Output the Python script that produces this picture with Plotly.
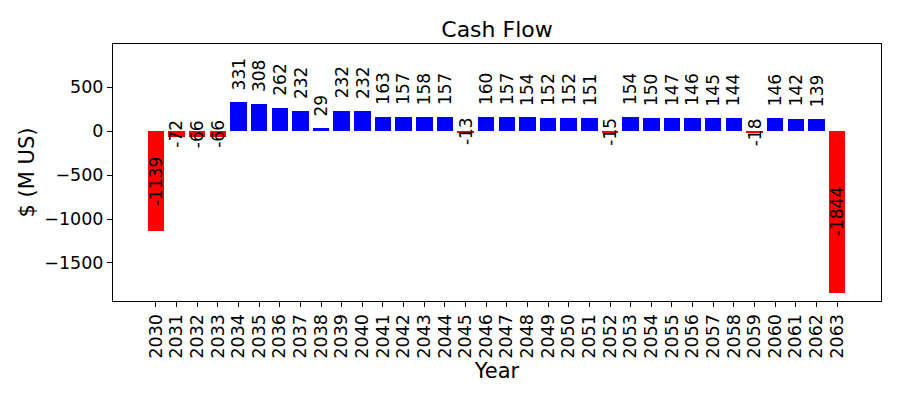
import plotly.graph_objects as go

# cash flow per year, M US$
years = list(range(2030, 2064))
cashflow = [-1139, -72, -66, -66, 331, 308, 262, 232, 29, 232, 232, 163, 157, 158, 157, -13,
            160, 157, 154, 152, 152, 151, -15, 154, 150, 147, 146, 145, 144, -18, 146, 142, 139, -1844]
ytick_vals = [500, 0, -500, -1000, -1500]

colors = ['#ff0000' if v < 0 else '#0000ff' for v in cashflow]

fig = go.Figure()
fig.add_trace(
    go.Bar(
        x=years,
        y=cashflow,
        width=0.8,
        marker_color=colors,
        marker_line_width=0,
        showlegend=False,
    )
)

# value labels, rotated like the original
for yr, v in zip(years, cashflow):
    if v >= 0:
        fig.add_annotation(x=yr, y=v, text=str(v), textangle=-90, showarrow=False,
                           yanchor='bottom', xanchor='center', yshift=10,
                           font=dict(size=17, color='black'))
    else:
        fig.add_annotation(x=yr, y=v / 2, text=str(v), textangle=-90, showarrow=False,
                           yanchor='middle', xanchor='center',
                           font=dict(size=17, color='black'))

# page body has an 8px margin, so the figure is a bit smaller than the window
fig.update_layout(
    width=892, height=392,
    margin=dict(l=105, r=19, t=36, b=99),
    plot_bgcolor='white',
    paper_bgcolor='white',
    font=dict(family='DejaVu Sans', size=17.5, color='black'),
    title=dict(text='Cash Flow', x=0.5, xanchor='center', xref='paper',
               y=1 - 21 / 392, yref='container', yanchor='middle',
               font=dict(size=22)),
    bargap=0,
)
fig.update_xaxes(
    range=[2027.92, 2065.13],
    tickmode='array', tickvals=years, ticktext=[str(y) for y in years],
    tickangle=-90,
    showline=True, linecolor='black', linewidth=1, mirror=True,
    ticks='outside', ticklen=5, tickcolor='black',
    showgrid=False, zeroline=False, automargin=False,
    title=dict(text='Year', standoff=1),
)
fig.update_yaxes(
    range=[-1932, 989],
    tickmode='array', tickvals=ytick_vals,
    ticktext=[str(v).replace('-', '\u2212') for v in ytick_vals],
    showline=True, linecolor='black', linewidth=1, mirror=True,
    ticks='outside', ticklen=5, tickcolor='black',
    showgrid=False, zeroline=False, automargin=False,
    title=dict(text='$ (M US)', standoff=3),
)

fig.write_html("out.html")
